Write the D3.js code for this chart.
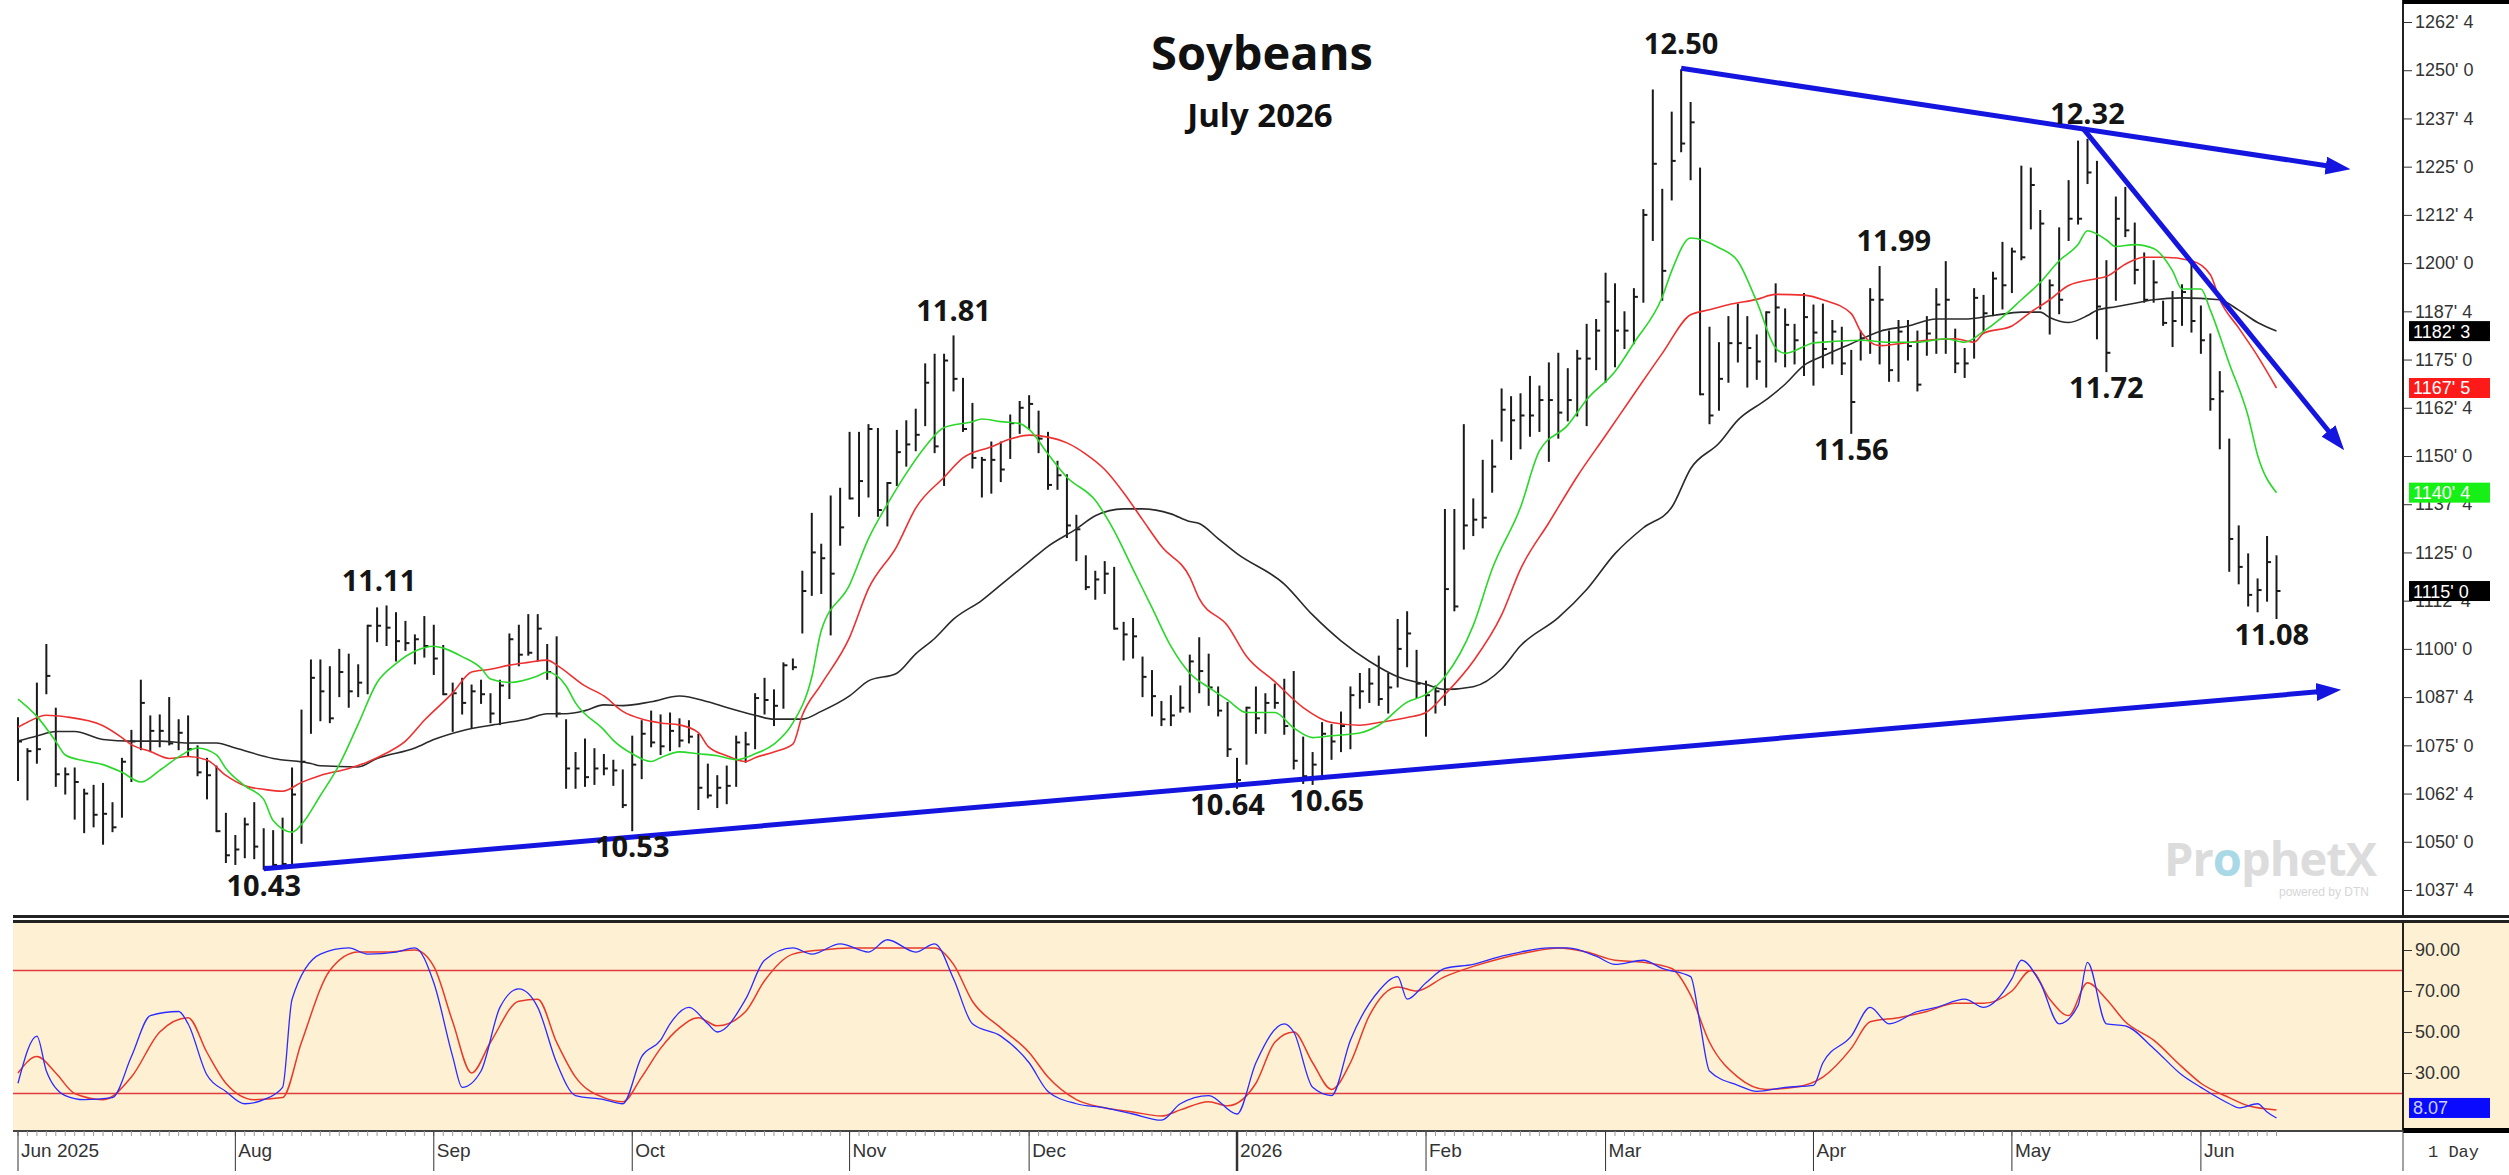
<!DOCTYPE html>
<html>
<head>
<meta charset="utf-8">
<script src="https://cdn.jsdelivr.net/npm/d3@7"></script>
<style>
  html, body { margin: 0; padding: 0; background: #fff; }
  svg { display: block; }
</style>
</head>
<body>
<div id="chart"></div>
<script>
// trading calendar
const firstDay = "2025-06-30", lastDay = "2026-06-11";
const holidays = ["2025-07-04", "2025-09-01", "2025-11-27", "2025-12-25", "2026-01-01",
  "2026-01-19", "2026-02-16", "2026-04-03", "2026-05-25"];

// daily bars in cents: [high, low, close]
const barsJun2025 = [[1082, 1066, 1076]];
const barsJul2025 = [
  [1074, 1061, 1073.5], [1091, 1070.5, 1074], [1101, 1088.5, 1093], [1084.5, 1064.5, 1067.5],
  [1069, 1062.5, 1067.5], [1069, 1056, 1065.5], [1063.5, 1052.5, 1062.5], [1064.5, 1054, 1057],
  [1065, 1049.5, 1057.25], [1060, 1052.75, 1053.75], [1071.5, 1056.5, 1070.75], [1078.75, 1065.75, 1076],
  [1091.75, 1074, 1086], [1082.5, 1073.5, 1078.75], [1082.75, 1074.75, 1078.75], [1087.25, 1075.25, 1075.5],
  [1081.5, 1074, 1078.25], [1082.5, 1072.5, 1074], [1074.75, 1067.25, 1068], [1071.5, 1061.25, 1067.25],
  [1069.5, 1052.75, 1052.75], [1057.25, 1044.75, 1046.5]
];
const barsAug2025 = [
  [1051.5, 1044.25, 1048], [1056, 1046, 1054.5], [1060, 1045.75, 1048.75], [1053.25, 1043, 1043.5],
  [1052.75, 1043.25, 1044], [1056, 1044, 1044.25], [1069, 1043.5, 1062.25], [1084, 1049.75, 1070.75],
  [1097, 1078.25, 1092.5], [1097, 1081.5, 1089], [1095.25, 1081, 1082], [1099.75, 1087.75, 1094],
  [1098.5, 1085, 1089], [1095.75, 1087.75, 1091.25], [1106, 1088.5, 1106], [1110.5, 1102, 1106],
  [1111, 1101, 1105.5], [1109.25, 1097, 1102], [1107, 1099.75, 1101.5], [1103.5, 1096.25, 1102.5],
  [1108.25, 1098, 1100.75]
];
const barsSep2025 = [
  [1106, 1093.5, 1097.5], [1100.75, 1088.25, 1088.25], [1091, 1078.75, 1088.5], [1092.25, 1083.25, 1086],
  [1090.5, 1079.75, 1089], [1091.75, 1086, 1088.25], [1088.25, 1081, 1083.25], [1091.75, 1080.5, 1090.5],
  [1103.75, 1087.25, 1102.5], [1106, 1095.75, 1098.5], [1108.75, 1098.5, 1099], [1108.75, 1097, 1105.25],
  [1101, 1092.25, 1094], [1103, 1082.5, 1083.25], [1081.5, 1064, 1069], [1073, 1064, 1069],
  [1076.5, 1064.5, 1066.75], [1074, 1065, 1069], [1072.5, 1067.5, 1069], [1071, 1064.75, 1068.5],
  [1068.5, 1059, 1059.5]
];
const barsOct2025 = [
  [1077.25, 1053, 1070], [1081.25, 1066.5, 1078], [1083.75, 1074.75, 1075.75], [1082.75, 1072.75, 1074.75],
  [1083.25, 1073.75, 1078.75], [1081.75, 1074.75, 1076.25], [1081.25, 1075.75, 1077.25], [1077.75, 1058.5, 1064],
  [1070, 1061.5, 1062], [1067, 1059, 1064], [1069.5, 1060, 1064.5], [1077.25, 1064.5, 1075.75],
  [1078.25, 1070.75, 1075.25], [1088.25, 1074.25, 1087.25], [1092.25, 1083.25, 1086.75], [1089.25, 1080.25, 1085.25],
  [1096.25, 1084.75, 1095.75], [1097.25, 1094.75, 1095.25], [1120, 1104.25, 1115], [1135, 1114, 1125],
  [1127, 1114.5, 1123.5], [1139.5, 1103.75, 1119.5], [1141.5, 1127, 1131.5]
];
const barsNov2025 = [
  [1156, 1139, 1139], [1156, 1134.5, 1143.5], [1158, 1139.5, 1157], [1157, 1134.5, 1136],
  [1143, 1132, 1143], [1156.5, 1142.5, 1151], [1159, 1147.5, 1153], [1162, 1151.5, 1155.5],
  [1173.75, 1158, 1169], [1176.25, 1151, 1152.5], [1176.25, 1142.5, 1174.75], [1181, 1167, 1170],
  [1170, 1156.5, 1157], [1163.5, 1147, 1149.5], [1149.5, 1139.5, 1149], [1153.5, 1140.5, 1149],
  [1153.5, 1143.5, 1146.5], [1160.5, 1149.5, 1158.5], [1164, 1156, 1162.5]
];
const barsDec2025 = [
  [1165.5, 1157, 1163.5], [1161.5, 1151, 1154.5], [1156, 1141.5, 1142.5], [1148.5, 1141.5, 1145],
  [1145, 1129, 1132], [1134.5, 1123, 1131], [1124, 1115.5, 1116], [1120, 1113, 1118],
  [1122.5, 1114.5, 1119.5], [1121, 1105.25, 1105.25], [1106.75, 1097.25, 1103.75], [1107.75, 1097.75, 1103.25],
  [1097.75, 1087.75, 1092.75], [1094.25, 1082.75, 1087.75], [1086.25, 1080.25, 1081.75], [1087.75, 1080.25, 1082.75],
  [1090.25, 1083.75, 1084.75], [1098.25, 1083.75, 1096.75], [1102.75, 1088.75, 1094.25], [1098.5, 1085.5, 1090],
  [1090, 1082.75, 1084], [1086, 1072.25, 1074]
];
const barsJan2026 = [
  [1071.5, 1064, 1066], [1084.75, 1070.25, 1084.75], [1090, 1078.25, 1082], [1088.25, 1078.25, 1086],
  [1090.75, 1084.75, 1086], [1092, 1078, 1080], [1094, 1069, 1071], [1077, 1065.25, 1067],
  [1073, 1065, 1070], [1080.75, 1066.25, 1078], [1080.25, 1071.5, 1076], [1083.5, 1073.5, 1080],
  [1090, 1074.25, 1088], [1093.5, 1084.75, 1089], [1094.75, 1086.25, 1091], [1098, 1085.5, 1087],
  [1093.5, 1083.5, 1090], [1107.5, 1090.25, 1100], [1109.5, 1095.5, 1104], [1099.5, 1087.5, 1091]
];
const barsFeb2026 = [
  [1091.5, 1077.5, 1088], [1090.25, 1083.5, 1089], [1136, 1085.5, 1115.5], [1136, 1110, 1111],
  [1158, 1126, 1132], [1138.75, 1129.5, 1133.5], [1148.75, 1131.5, 1134], [1154, 1140.75, 1147.25],
  [1167.25, 1154, 1162], [1165.25, 1149.25, 1159.25], [1166, 1152, 1160.5], [1170.5, 1155.25, 1160.5],
  [1168, 1156.5, 1164.5], [1174, 1148.75, 1164.5], [1176.5, 1154.75, 1161.25], [1172.5, 1159.25, 1164.5],
  [1177.25, 1160.5, 1175.25], [1184, 1158, 1175.25], [1185.25, 1172.5, 1182.5]
];
const barsMar2026 = [
  [1197.25, 1169.25, 1190], [1194.5, 1173.25, 1182.5], [1187.25, 1178, 1182.5], [1193.25, 1179.25, 1191.25],
  [1213.75, 1190, 1212.5], [1244.75, 1206, 1225.75], [1219, 1190.5, 1198], [1239, 1216.5, 1226.5],
  [1250, 1229, 1231], [1241.5, 1221.75, 1236.5], [1224.5, 1166, 1166], [1183.25, 1158.5, 1160.5],
  [1179.25, 1162, 1170], [1186, 1169.25, 1179.25], [1189.25, 1174.5, 1179.25], [1186, 1168, 1178],
  [1181.25, 1170, 1174.5], [1187.25, 1168, 1187.25], [1194.5, 1174.5, 1188.5], [1188, 1173.25, 1184],
  [1184, 1174, 1180], [1192, 1171, 1186]
];
const barsApr2026 = [
  [1189, 1168.5, 1182], [1189.25, 1173, 1177.75], [1185, 1174, 1182.25], [1183.25, 1171.25, 1174],
  [1177.25, 1156, 1164], [1182.25, 1175, 1180.5], [1193.25, 1176.75, 1190.5], [1199, 1174, 1190.5],
  [1182.25, 1169.5, 1172.25], [1185, 1169.5, 1182.25], [1185, 1175, 1178.5], [1182.25, 1167, 1168.5],
  [1186, 1176.25, 1181.75], [1193.25, 1176.75, 1189.25], [1200.25, 1176.75, 1190.5], [1182.75, 1171.75, 1174],
  [1177.75, 1170.5, 1174], [1193.25, 1175.5, 1191], [1191.5, 1182.25, 1187], [1197.5, 1186.5, 1196],
  [1205.25, 1188.25, 1194.25]
];
const barsMay2026 = [
  [1203.75, 1192.5, 1203], [1225, 1201, 1201.5], [1224.5, 1209, 1220.25], [1213.5, 1188.25, 1210.25],
  [1195.5, 1181.75, 1194.25], [1209, 1187, 1190.5], [1221.25, 1206, 1211.5], [1231.5, 1210.25, 1211.5],
  [1232, 1220.75, 1223.5], [1226.25, 1180.5, 1188.75], [1200.5, 1172, 1176.75], [1217, 1190.5, 1211.5],
  [1219.5, 1207, 1208.5], [1210.25, 1194.75, 1198.25], [1202.5, 1190, 1190.5], [1200.5, 1190, 1195],
  [1190, 1184, 1184.5], [1192.5, 1178.5, 1185], [1194.25, 1184, 1192.5], [1199.75, 1182.25, 1185]
];
const barsJun2026 = [
  [1188.75, 1176.75, 1180], [1181.5, 1162, 1164.75], [1171.75, 1152, 1166.75], [1154.25, 1120.25, 1128.5],
  [1131.75, 1117, 1121.25], [1124.5, 1111.25, 1114], [1118, 1109.75, 1115.25], [1129, 1112.5, 1122.5],
  [1124, 1108, 1115]
];

// moving averages: [bar index, cents]
const maFast = [[0,1087],[2,1082.5],[4,1076],[5,1072.5],[7,1071],[9,1070],[11,1068],[13,1065.5],[15,1068.5],
  [17,1072],[19,1074.3],[21,1072.5],[22,1069],[24,1064.5],[26,1061],[27,1055.5],[29,1052.5],[30,1054.5],
  [32,1062],[34,1070],[36,1080.5],[38,1091.3],[40,1096.2],[42,1099.4],[44,1100.7],[45,1100.2],[47,1098],
  [49,1095],[50,1092.2],[52,1091.3],[55,1093],[56,1094],[58,1090.4],[59,1086],[62,1079],[63,1076.3],
  [65,1072.8],[67,1070.8],[68,1071.8],[70,1073.3],[72,1072.8],[74,1072.3],[76,1071.3],[78,1072.8],
  [80,1075.3],[82,1080.8],[84,1092.7],[85,1104.7],[88,1116.6],[90,1128.6],[92,1137.5],[94,1145.5],
  [96,1152.4],[98,1157.4],[101,1158.9],[102,1159.6],[104,1158.9],[106,1158.4],[107,1156.9],[109,1150.5],
  [111,1144.5],[114,1138.5],[116,1130.6],[118,1120.6],[120,1110.7],[122,1100.7],[124,1093.7],[126,1090],
  [128,1086.8],[130,1083.5],[133,1083.5],[135,1079.5],[137,1077],[139,1077.5],[142,1078.2],[144,1080.2],
  [147,1086.2],[149,1088.2],[151,1092.8],[154,1106.1],[156,1120.7],[159,1136.7],[161,1151.3],[164,1158],
  [166,1164.6],[169,1171.9],[171,1179.3],[174,1191.2],[175,1198],[177,1206.5],[180,1204],[182,1200.5],
  [184,1190],[186,1178],[187,1176.6],[190,1179.3],[191,1179.5],[195,1180],[198,1179.5],[201,1179.5],
  [204,1180.4],[206,1179.5],[208,1182.3],[210,1186],[212,1190.5],[214,1195],[216,1200.6],[218,1204.8],
  [219,1208.4],[221,1206],[222,1204.3],[224,1204.8],[226,1203.8],[228,1198],[229,1193.3],[231,1193.3],
  [232,1187.8],[234,1174],[236,1160.3],[237,1150.2],[239,1140.5]];
const maMid = [[0,1079.7],[1,1081],[3,1082.8],[5,1082.4],[9,1080.1],[11,1077],[12,1075.2],[14,1073.4],
  [16,1071.6],[18,1072.1],[20,1071.2],[22,1067.2],[24,1064.5],[26,1063.6],[28,1063.1],[30,1065.4],
  [32,1067.2],[35,1069],[37,1070.7],[39,1073],[41,1076.1],[43,1081.5],[46,1088.6],[48,1094],[50,1094.7],
  [52,1095.8],[54,1096.5],[56,1097.1],[57,1095.8],[60,1090.4],[62,1087.8],[64,1083.8],[66,1081.8],
  [68,1080.8],[70,1080.3],[72,1078.3],[73,1074.8],[75,1072.3],[77,1070.8],[78,1071.8],[80,1073.3],
  [82,1075.3],[83,1082.8],[85,1090.8],[88,1103],[90,1115.6],[93,1126.6],[95,1136.5],[98,1144.5],
  [100,1149.5],[103,1152.4],[105,1154.4],[107,1155.4],[109,1154.9],[111,1153.4],[113,1150.5],[115,1146.5],
  [117,1140.5],[119,1133.5],[121,1126.6],[124,1118.6],[125,1113],[128,1106],[130,1098.1],[133,1091.5],
  [136,1084.8],[139,1080.9],[142,1080.2],[144,1080.9],[147,1082.2],[149,1083.5],[151,1088.2],[154,1096.8],
  [157,1108.8],[159,1120.7],[162,1132.7],[165,1144.7],[168,1155.3],[171,1166],[174,1176.6],[177,1186.6],
  [179,1187.9],[181,1189.2],[184,1190.6],[186,1191.9],[189,1191.7],[191,1190.5],[194,1186.9],[195,1182.3],
  [197,1178.6],[199,1179.1],[202,1180],[205,1180.4],[207,1179.5],[208,1181.8],[211,1183.7],[213,1187.3],
  [215,1190.5],[217,1194.2],[220,1196],[221,1196.5],[223,1199.7],[225,1201.5],[227,1201.5],[230,1200.6],
  [232,1197],[233,1190.5],[235,1183.2],[237,1175.9],[239,1167.625]];
const maSlow = [[0,1076.1],[2,1077.4],[4,1078.6],[6,1078.6],[9,1076.5],[12,1076.1],[15,1076.1],[18,1075.6],
  [21,1075.6],[23,1074.3],[27,1071.6],[31,1070.3],[32,1069.7],[36,1069.4],[38,1071.6],[42,1074.3],
  [44,1076.5],[47,1078.8],[51,1080.6],[54,1081.9],[56,1083.2],[58,1083.2],[60,1084],[62,1085.5],
  [64,1085.3],[67,1086.3],[70,1087.8],[73,1086.3],[75,1084.8],[78,1082.8],[80,1081.8],[83,1081.8],
  [85,1083.8],[88,1087.8],[90,1091.7],[93,1093.7],[95,1098.7],[97,1102.7],[99,1107.7],[102,1112.6],
  [104,1116.6],[107,1122.6],[109,1126.6],[112,1131.1],[114,1134.5],[117,1136.3],[119,1136.3],[122,1135],
  [124,1133],[125,1132.5],[127,1128.6],[129,1124.7],[134,1116.8],[137,1108.8],[140,1102.1],[143,1096.8],
  [146,1092.8],[149,1090.8],[151,1089.5],[154,1090.2],[157,1094.8],[159,1100.8],[163,1108.1],[166,1115.4],
  [169,1124.7],[172,1131.4],[175,1136.7],[177,1146.7],[180,1153.3],[182,1159.3],[185,1164.6],[187,1168.6],
  [189,1173.5],[191,1175.9],[194,1179.1],[197,1182.3],[200,1183.7],[203,1185.5],[206,1185.5],[209,1186.4],
  [212,1187.3],[214,1187.3],[215,1185.9],[217,1184.6],[219,1186.4],[220,1187.8],[222,1188.7],[224,1189.6],
  [226,1190.5],[229,1191],[233,1190.5],[235,1187.8],[237,1184.6],[239,1182.375]];

// stochastic: [bar index, value]
const stochK = [[0,25],[2,48],[3,31],[5,19],[7,17],[10,18],[12,38],[14,58],[17,60],[18,54],[20,29],[22,21],
  [24,15],[26,17],[28,23],[29,66],[32,88],[35,91],[37,88],[40,89],[42,91],[44,74],[46,38],[47,23],[49,31],
  [51,62],[53,71],[55,62],[57,35],[59,19],[62,17],[64,15],[66,38],[68,46],[69,54],[71,62],[73,54],[74,50],
  [77,66],[79,85],[82,91],[84,88],[87,93],[90,89],[92,95],[95,89],[97,93],[99,76],[101,54],[104,48],
  [107,35],[109,21],[112,15],[115,13],[118,10],[121,7],[123,15],[126,19],[129,10],[131,35],[134,54],
  [135,50],[137,23],[139,19],[141,46],[144,70],[146,77],[147,66],[149,74],[151,81],[154,83],[157,87],
  [159,89],[162,91],[164,91],[167,87],[169,83],[172,85],[174,81],[177,77],[178,54],[179,31],[182,24],
  [184,21],[187,23],[190,24],[191,35],[194,48],[196,62],[198,54],[201,60],[203,62],[206,66],[208,62],
  [211,76],[212,85],[214,74],[216,54],[218,63],[219,84],[221,54],[223,53],[226,42],[229,29],[231,23],
  [234,15],[235,13],[237,15],[238,11],[239,8.07]];
const stochD = [[0,30],[2,38],[4,30],[6,20],[9,17],[12,28],[15,50],[18,57],[20,40],[22,25],[25,17],[28,18],
  [30,45],[33,80],[36,89],[39,89],[42,90],[44,82],[46,55],[48,30],[50,45],[53,65],[55,66],[57,45],[59,28],
  [62,18],[64,16],[66,28],[68,42],[70,52],[72,57],[74,53],[77,60],[79,75],[82,88],[85,90],[88,91],[91,91],
  [94,91],[97,91],[99,83],[101,65],[104,52],[107,40],[109,28],[112,17],[115,13],[118,11],[121,9],[123,12],
  [126,16],[128,14],[131,25],[133,45],[135,50],[137,35],[139,22],[141,35],[143,58],[146,72],[148,70],
  [151,77],[154,82],[157,86],[160,89],[163,91],[166,89],[169,85],[172,84],[175,81],[177,68],[179,45],
  [182,28],[185,22],[188,23],[191,28],[194,42],[196,55],[199,57],[202,60],[205,64],[208,64],[211,70],
  [213,80],[215,66],[217,58],[219,74],[221,66],[223,55],[226,46],[229,33],[231,25],[234,18],[236,14],[239,12]];

// hand-drawn trend lines: [bar index, cents]
const supportLine = [[26, 1043], [244, 1089]];
const upperLine = [[176, 1250.5], [245, 1225]];
const steepLine = [[218.5, 1235], [245, 1155]];

// price call-outs: text, bar index, side
const callouts = [
  ["12.50", 176, "up"], ["12.32", 219, "up"], ["11.81", 99, "up"], ["11.99", 198.5, "up"],
  ["11.11", 38.2, "up"], ["11.56", 194, "down"], ["11.72", 221, "down"], ["11.08", 238.5, "down"],
  ["10.43", 26, "down"], ["10.53", 65, "down"], ["10.64", 128, "down"], ["10.65", 138.5, "down"]
];

// month labels on the time axis
const monthLabels = [["2025-06", "Jun 2025"], ["2025-08", "Aug"], ["2025-09", "Sep"], ["2025-10", "Oct"],
  ["2025-11", "Nov"], ["2025-12", "Dec"], ["2026-01", "2026"], ["2026-02", "Feb"], ["2026-03", "Mar"],
  ["2026-04", "Apr"], ["2026-05", "May"], ["2026-06", "Jun"]];

// ---------------------------------------------------------------
const W = 2509, H = 1175;
const plotLeft = 13, axisX = 2403;
const mainBottom = 915, oscTop = 923, oscBottom = 1130;
const blue = "#1515e0";

// build the trading days
const fmtDay = d3.utcFormat("%Y-%m-%d");
const days = [];
for (let d = new Date(firstDay + "T00:00:00Z"); fmtDay(d) <= lastDay; d = d3.utcDay.offset(d, 1)) {
  const wd = d.getUTCDay();
  if (wd === 0 || wd === 6 || holidays.includes(fmtDay(d))) continue;
  days.push(fmtDay(d));
}
const allBars = [].concat(barsJun2025, barsJul2025, barsAug2025, barsSep2025, barsOct2025, barsNov2025,
  barsDec2025, barsJan2026, barsFeb2026, barsMar2026, barsApr2026, barsMay2026, barsJun2026);
const bars = allBars.map((b, i) => ({ i: i, day: days[i], high: b[0], low: b[1], close: b[2] }));

const x = d3.scaleLinear().domain([0, 239]).range([18, 2276.5]);
const y = d3.scaleLinear().domain([1037.5, 1262.5]).range([890, 22]);
const yOsc = d3.scaleLinear().domain([0, 100]).range([1134.5, 929.5]);

const svg = d3.select("#chart").append("svg")
  .attr("width", W).attr("height", H)
  .style("font-family", "'Liberation Sans', Arial, sans-serif");

const defs = svg.append("defs");
defs.append("clipPath").attr("id", "clipMain").append("rect")
  .attr("x", plotLeft).attr("y", 0).attr("width", axisX - plotLeft).attr("height", mainBottom);
defs.append("clipPath").attr("id", "clipOsc").append("rect")
  .attr("x", plotLeft).attr("y", oscTop).attr("width", axisX - plotLeft).attr("height", oscBottom - oscTop);
defs.append("marker").attr("id", "arrow")
  .attr("viewBox", "0 0 10 10").attr("refX", 3).attr("refY", 5)
  .attr("markerWidth", 5).attr("markerHeight", 5).attr("orient", "auto")
  .append("path").attr("d", "M0,1.4 L10,5 L0,8.6 z").attr("fill", blue);

// lower panel background
svg.append("rect").attr("x", plotLeft).attr("y", oscTop)
  .attr("width", W - plotLeft).attr("height", oscBottom - oscTop).attr("fill", "#fdf0d3");

// watermark
const wm = svg.append("g").attr("transform", "translate(2164,876)");
wm.append("text").attr("font-size", 47).attr("font-weight", "bold").attr("fill", "#dcdcdc")
  .attr("font-family", "'Open Sans', sans-serif").attr("letter-spacing", -1)
  .text("Pr").append("tspan").attr("fill", "#a9d9e6").text("o")
  .append("tspan").attr("fill", "#dcdcdc").text("phetX");
wm.append("text").attr("x", 205).attr("y", 20).attr("text-anchor", "end")
  .attr("font-size", 12).attr("fill", "#d6d6d6").text("powered by DTN");

// price bars
const main = svg.append("g").attr("clip-path", "url(#clipMain)");
const barG = main.append("g").attr("stroke", "#1a1a1a").attr("stroke-width", 2);
barG.selectAll("line.hl").data(bars).join("line").attr("class", "hl")
  .attr("x1", d => x(d.i)).attr("x2", d => x(d.i))
  .attr("y1", d => y(d.high) - 1).attr("y2", d => y(d.low) + 1);
barG.selectAll("line.cl").data(bars).join("line").attr("class", "cl")
  .attr("x1", d => x(d.i)).attr("x2", d => x(d.i) + 4)
  .attr("y1", d => y(d.close)).attr("y2", d => y(d.close));

// moving averages
const maLine = d3.line().x(d => x(d[0])).y(d => y(d[1])).curve(d3.curveMonotoneX);
main.append("path").datum(maSlow).attr("d", maLine).attr("fill", "none").attr("stroke", "#2a2a2a").attr("stroke-width", 1.6);
main.append("path").datum(maMid).attr("d", maLine).attr("fill", "none").attr("stroke", "#ee3030").attr("stroke-width", 1.6);
main.append("path").datum(maFast).attr("d", maLine).attr("fill", "none").attr("stroke", "#2ad82a").attr("stroke-width", 1.6);

// trend lines
const tLine = d3.line().x(d => x(d[0])).y(d => y(d[1]));
[supportLine, upperLine, steepLine].forEach(seg => {
  main.append("path").datum(seg).attr("d", tLine).attr("fill", "none")
    .attr("stroke", blue).attr("stroke-width", 5).attr("marker-end", "url(#arrow)");
});

// call-outs
svg.append("g").selectAll("text").data(callouts).join("text")
  .attr("x", d => x(d[1]))
  .attr("y", d => y(+d[0] * 100) + (d[2] === "up" ? -26 : 17))
  .attr("dy", "0.35em").attr("text-anchor", "middle")
  .attr("font-family", "'Open Sans', sans-serif").attr("font-weight", "bold")
  .attr("font-size", 29).attr("fill", "#151515")
  .text(d => d[0]);

// title
svg.append("text").attr("x", 1262).attr("y", 70).attr("text-anchor", "middle")
  .attr("font-family", "'Open Sans', sans-serif").attr("font-weight", "bold").attr("font-size", 47)
  .attr("fill", "#111").text("Soybeans");
svg.append("text").attr("x", 1260).attr("y", 127).attr("text-anchor", "middle")
  .attr("font-family", "'Open Sans', sans-serif").attr("font-weight", "bold").attr("font-size", 33)
  .attr("fill", "#111").text("July 2026");

// stochastic panel
const osc = svg.append("g").attr("clip-path", "url(#clipOsc)");
[80, 20].forEach(v => {
  osc.append("line").attr("x1", plotLeft).attr("x2", axisX).attr("y1", yOsc(v)).attr("y2", yOsc(v))
    .attr("stroke", "#e03c3c").attr("stroke-width", 1.5);
});
const oscLine = d3.line().x(d => x(d[0])).y(d => yOsc(d[1])).curve(d3.curveMonotoneX);
osc.append("path").datum(stochD).attr("d", oscLine).attr("fill", "none").attr("stroke", "#e83a2a").attr("stroke-width", 1.5);
osc.append("path").datum(stochK).attr("d", oscLine).attr("fill", "none").attr("stroke", "#2b2bff").attr("stroke-width", 1.3);

// right price axis
const fmtPrice = v => {
  const whole = Math.floor(v + 1e-9);
  return whole + "' " + Math.round((v - whole) * 8);
};
const axisG = svg.append("g").attr("transform", `translate(${axisX},0)`);
axisG.call(d3.axisRight(y).tickValues(d3.range(1032.5, 1267.6, 2.5)).tickSize(4).tickFormat(""));
axisG.call(d3.axisRight(y).tickValues(d3.range(1037.5, 1262.6, 12.5)).tickSize(9).tickPadding(3).tickFormat(fmtPrice));
axisG.selectAll(".domain").remove();
axisG.selectAll("text").attr("font-size", 18).attr("fill", "#333").attr("font-family", "'Liberation Sans', Arial, sans-serif");
axisG.selectAll("line").attr("stroke", "#333");
svg.append("line").attr("x1", axisX).attr("x2", axisX).attr("y1", 0).attr("y2", mainBottom)
  .attr("stroke", "#222").attr("stroke-width", 2);

// value boxes on the price axis
const lastBar = bars[bars.length - 1];
const boxes = [
  [maSlow[maSlow.length - 1][1], "#000", "#fff"],
  [maMid[maMid.length - 1][1], "#ff1a1a", "#fff"],
  [maFast[maFast.length - 1][1], "#16f016", "#fff"],
  [lastBar.close, "#000", "#fff"]
];
const boxG = svg.append("g").selectAll("g").data(boxes).join("g")
  .attr("transform", d => `translate(${axisX + 6},${y(d[0])})`);
boxG.append("rect").attr("x", 0).attr("y", -10).attr("width", 81).attr("height", 20).attr("fill", d => d[1]);
boxG.append("text").attr("x", 4).attr("dy", "0.36em").attr("font-size", 18).attr("fill", d => d[2])
  .text(d => fmtPrice(d[0]));

// stochastic axis
const oscAxis = svg.append("g").attr("transform", `translate(${axisX},0)`);
oscAxis.call(d3.axisRight(yOsc).tickValues(d3.range(5, 100, 5)).tickSize(4).tickFormat(""));
oscAxis.call(d3.axisRight(yOsc).tickValues([30, 50, 70, 90]).tickSize(9).tickPadding(3).tickFormat(d3.format(".2f")));
oscAxis.selectAll(".domain").remove();
oscAxis.selectAll("text").attr("font-size", 18).attr("fill", "#333").attr("font-family", "'Liberation Sans', Arial, sans-serif");
oscAxis.selectAll("line").attr("stroke", "#333");
svg.append("line").attr("x1", axisX).attr("x2", axisX).attr("y1", oscTop).attr("y2", oscBottom)
  .attr("stroke", "#222").attr("stroke-width", 2);
const lastK = stochK[stochK.length - 1][1];
svg.append("rect").attr("x", axisX + 6).attr("y", yOsc(lastK) - 20).attr("width", 81).attr("height", 20).attr("fill", "#0a0aff");
svg.append("text").attr("x", axisX + 10).attr("y", yOsc(lastK) - 10).attr("dy", "0.36em")
  .attr("font-size", 18).attr("fill", "#c8d2ff").text(d3.format(".2f")(lastK));

// panel borders
svg.append("rect").attr("x", plotLeft).attr("y", mainBottom).attr("width", W - plotLeft).attr("height", 3).attr("fill", "#222");
svg.append("rect").attr("x", plotLeft).attr("y", oscTop - 3).attr("width", W - plotLeft).attr("height", 3).attr("fill", "#222");
svg.append("rect").attr("x", axisX).attr("y", 0).attr("width", W - axisX).attr("height", 4).attr("fill", "#000");
svg.append("rect").attr("x", axisX).attr("y", oscBottom - 2).attr("width", W - axisX).attr("height", 5).attr("fill", "#000");

// time axis
const tAxis = svg.append("g");
tAxis.append("line").attr("x1", plotLeft).attr("x2", axisX).attr("y1", oscBottom + 1).attr("y2", oscBottom + 1)
  .attr("stroke", "#444").attr("stroke-width", 2);
tAxis.selectAll("line.minor").data(bars).join("line").attr("class", "minor")
  .attr("x1", d => x(d.i)).attr("x2", d => x(d.i))
  .attr("y1", oscBottom + 1).attr("y2", oscBottom + 6).attr("stroke", "#999");
const monthTicks = monthLabels.map(m => ({ i: days.findIndex(dd => dd.startsWith(m[0])), label: m[1] }));
tAxis.selectAll("line.month").data(monthTicks).join("line").attr("class", "month")
  .attr("x1", d => x(d.i)).attr("x2", d => x(d.i))
  .attr("y1", oscBottom + 1).attr("y2", H - 4)
  .attr("stroke", "#333").attr("stroke-width", d => d.label === "2026" ? 2.5 : 1);
tAxis.selectAll("text").data(monthTicks).join("text")
  .attr("x", d => x(d.i) + 3).attr("y", 1157)
  .attr("font-family", "'Liberation Sans Narrow', 'Liberation Sans', sans-serif")
  .attr("font-size", 19).attr("fill", "#333")
  .text(d => d.label);
tAxis.append("line").attr("x1", axisX).attr("x2", axisX).attr("y1", oscBottom).attr("y2", H - 4)
  .attr("stroke", "#444").attr("stroke-width", 1);
tAxis.append("text").attr("x", 2428).attr("y", 1157)
  .attr("font-family", "'Liberation Mono', monospace").attr("font-size", 17).attr("fill", "#333")
  .text("1 Day");
</script>
</body>
</html>
